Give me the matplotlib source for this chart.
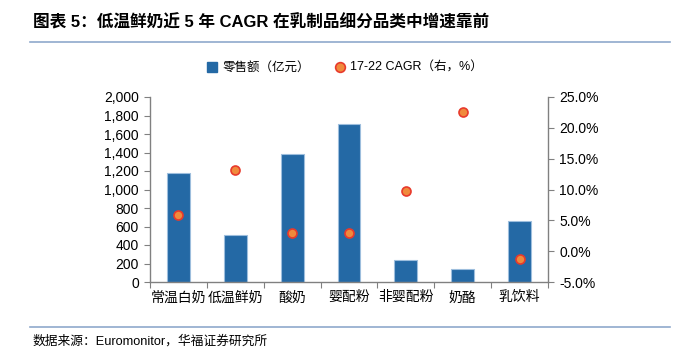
import matplotlib
matplotlib.use("Agg")
import matplotlib.pyplot as plt
from matplotlib.ticker import FuncFormatter, MultipleLocator
from matplotlib.lines import Line2D
import numpy as np

plt.rcParams['font.family'] = ['Liberation Sans', 'Noto Sans CJK SC']

categories = ['常温白奶', '低温鲜奶', '酸奶', '婴配粉', '非婴配粉', '奶酪', '乳饮料']
retail = [1175, 511, 1380, 1710, 238, 140, 663]
cagr = [5.8, 13.2, 3.0, 2.9, 9.8, 22.6, -1.3]

bar_color = '#2469A5'
dot_face = '#F08A3C'
dot_edge = '#E83A2C'
axis_grey = '#808080'

fig = plt.figure(figsize=(6.88, 3.54), dpi=100)
ax = fig.add_axes([150 / 688, 1 - 282 / 354, 398 / 688, 185 / 354])
ax2 = ax.twinx()

x = np.arange(len(categories))
ax.bar(x, retail, width=0.4, color=bar_color, edgecolor='#9DBEDD', linewidth=0.8, zorder=2)
ax2.scatter(x, cagr, s=42, color=dot_face, edgecolors=dot_edge, linewidths=1.2, zorder=3)

ax.set_xlim(-0.5, len(categories) - 0.5)
ax.set_ylim(0, 2000)
ax.yaxis.set_major_locator(MultipleLocator(200))
ax.yaxis.set_major_formatter(FuncFormatter(lambda v, p: f'{int(v):,}'))
ax2.set_ylim(-5, 25)
ax2.yaxis.set_major_locator(MultipleLocator(5))
ax2.yaxis.set_major_formatter(FuncFormatter(lambda v, p: f'{v:.1f}%'))

ax.set_xticks(np.arange(-0.5, len(categories), 1.0))
ax.set_xticklabels([])
ax.set_xticks(x, minor=True)
ax.set_xticklabels(categories, minor=True, fontsize=10, family=['Noto Sans CJK SC'])
ax.tick_params(axis='x', which='major', length=4, color=axis_grey, direction='out')
ax.tick_params(axis='x', which='minor', length=0, pad=6)
ax.tick_params(axis='y', length=4, color=axis_grey, labelsize=10, pad=4)
ax2.tick_params(axis='y', length=4, color=axis_grey, labelsize=10, pad=4)

for a in (ax, ax2):
    a.spines['top'].set_visible(False)
    for s in ('left', 'right', 'bottom'):
        a.spines[s].set_color(axis_grey)
        a.spines[s].set_linewidth(1.0)
ax2.spines['bottom'].set_visible(False)
ax2.spines['left'].set_visible(False)
ax.spines['right'].set_visible(False)

handles = [
    Line2D([], [], marker='s', linestyle='none', markersize=7, color=bar_color),
    Line2D([], [], marker='o', linestyle='none', markersize=7,
           markerfacecolor=dot_face, markeredgecolor=dot_edge, markeredgewidth=1.2),
]
fig.legend(handles, ['零售额（亿元）', '17-22 CAGR（右，%）'], loc='center',
           bbox_to_anchor=(345 / 688, 1 - 68 / 354), ncol=2, frameon=False,
           handlelength=0.8, handletextpad=0.4, columnspacing=2.0,
           prop={'family': ['Liberation Sans', 'Noto Sans CJK SC'], 'size': 9})

fig.text(33 / 688, 1 - 22 / 354, '图表 5：低温鲜奶近 5 年 CAGR 在乳制品细分品类中增速靠前',
         fontsize=12, fontweight='bold', va='center', ha='left')
fig.add_artist(Line2D([30 / 688, 670 / 688], [1 - 42 / 354] * 2, color='#8FA9CC', linewidth=1.2))
fig.add_artist(Line2D([30 / 688, 670 / 688], [1 - 327 / 354] * 2, color='#8FA9CC', linewidth=1.2))
fig.text(33 / 688, 1 - 341 / 354, '数据来源：Euromonitor，华福证券研究所',
         fontsize=9.2, va='center', ha='left')

fig.savefig('out.png', dpi=100)
